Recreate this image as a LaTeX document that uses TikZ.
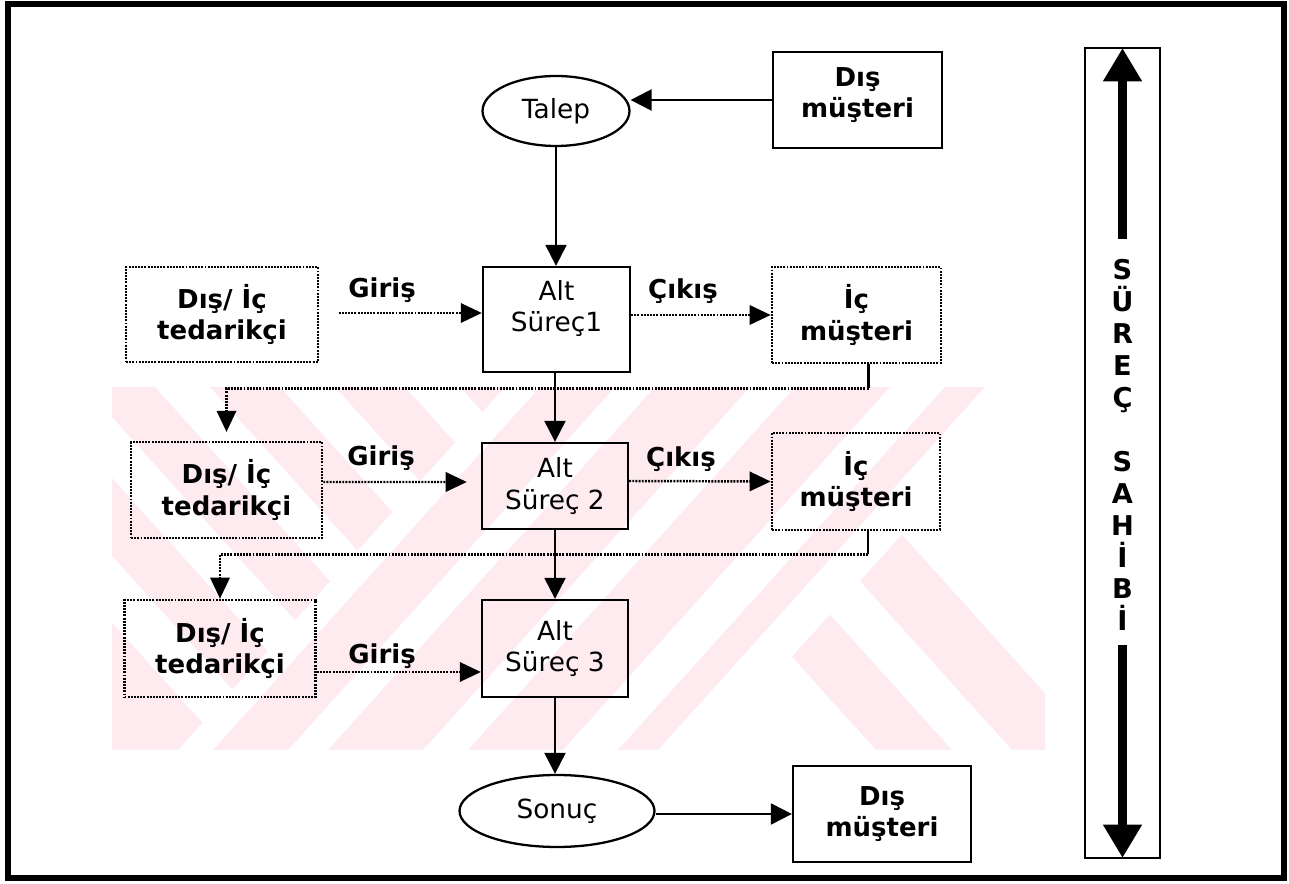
\documentclass[tikz,border=0pt]{standalone}
\usepackage{fontspec}
\setmainfont{DejaVu Sans}
\usetikzlibrary{arrows.meta,shapes.geometric}
\definecolor{wmpink}{RGB}{253,235,239}
\begin{document}
\begin{tikzpicture}[x=0.02cm,y=-0.02cm,
  reg/.style={font=\fontsize{15pt}{18pt}\selectfont},
  bld/.style={font=\fontsize{14.8pt}{18pt}\selectfont\bfseries},
  solidbox/.style={draw,line width=1.3pt,inner sep=0pt,align=center},
  dotbox/.style={draw,line width=1.5pt,dash pattern=on 1.1pt off 0.7pt,inner sep=0pt,align=center},
  oval/.style={draw,ellipse,line width=1.3pt,inner sep=0pt,reg},
  conn/.style={line width=1.2pt},
  arr/.style={conn,-{Triangle[length=12pt,width=12pt]}},
  dotconn/.style={line width=1.4pt,dash pattern=on 1.1pt off 0.7pt},
  dotarr/.style={dotconn,-{Triangle[length=12pt,width=11pt]}},
  bigarr/.style={line width=5pt,-{Triangle[length=19pt,width=21pt]}},
  lbl/.style={bld,inner sep=0pt,anchor=base},
  vlet/.style={font=\fontsize{15.5pt}{18pt}\selectfont\bfseries,inner sep=0pt,anchor=base}
]
\useasboundingbox (0,0) rectangle (1289,884);

% pale background emblem made of diagonal bands
\begin{scope}
  \clip (112,387) rectangle (1045,750);
  \begin{scope}
    \clip (505,387) -- (1035,387) -- (708,750) -- (178,750) -- cycle;
    \foreach \a/\b in {540/615,655/750,795/890,945/985}
      \fill[wmpink] (\a,387) -- (\b,387) -- (\b-327,750) -- (\a-327,750) -- cycle;
  \end{scope}
  \begin{scope}
    \clip (100,387) -- (505,387) -- (178,750) -- (100,750) -- cycle;
    \foreach \a/\b in {-215/-100,-40/30,85/155,210/280,335/405,460/520}
      \fill[wmpink] (\a,387) -- (\b,387) -- (\b+327,750) -- (\a+327,750) -- cycle;
  \end{scope}
  \begin{scope}
    \clip (1035,387) -- (1050,387) -- (1050,750) -- (708,750) -- cycle;
    \foreach \a/\b in {549/625,685/769}
      \fill[wmpink] (\a,387) -- (\b,387) -- (\b+327,750) -- (\a+327,750) -- cycle;
  \end{scope}
\end{scope}

% outer frame
\draw[line width=3pt] (8,4) rectangle (1284,878);

% main process column
\node[oval,minimum width=2.94cm,minimum height=1.4cm] (talep) at (556,111) {Talep};
\node[solidbox,bld,minimum width=3.38cm,minimum height=1.92cm] (dm1) at (857.5,100)
  {\raisebox{2.5pt}[\height][\depth]{\begin{tabular}{@{}c@{}}Dış\\müşteri\end{tabular}}};
\node[solidbox,reg,minimum width=2.94cm,minimum height=2.1cm] (alt1) at (556.5,319.5)
  {\raisebox{5.5pt}[\height][\depth]{\begin{tabular}{@{}c@{}}Alt\\Süreç1\end{tabular}}};
\node[solidbox,reg,minimum width=2.92cm,minimum height=1.72cm] (alt2) at (555,486) {Alt\\Süreç 2};
\node[solidbox,reg,minimum width=2.92cm,minimum height=1.94cm] (alt3) at (555,648.5) {Alt\\Süreç 3};
\node[oval,minimum width=3.9cm,minimum height=1.44cm] (sonuc) at (557,811) {Sonuç};
\node[solidbox,bld,minimum width=3.56cm,minimum height=1.92cm] (dm2) at (882,814) {Dış\\müşteri};

% suppliers and internal customers
\node[dotbox,bld,minimum width=3.84cm,minimum height=1.9cm] (ted1) at (222,314.5) {Dış/ İç\\tedarikçi};
\node[dotbox,bld,minimum width=3.82cm,minimum height=1.92cm] (ted2) at (226.5,490) {Dış/ İç\\tedarikçi};
\node[dotbox,bld,minimum width=3.82cm,minimum height=1.94cm] (ted3) at (220,648.5) {Dış/ İç\\tedarikçi};
\node[dotbox,bld,minimum width=3.38cm,minimum height=1.92cm] (ic1) at (856.5,315) {İç\\müşteri};
\node[dotbox,bld,minimum width=3.36cm,minimum height=1.94cm] (ic2) at (856,481.5) {İç\\müşteri};

% flow labels
\node[lbl] (gir1) at (382,298) {Giriş};
\node[lbl] (gir2) at (381,466) {Giriş};
\node[lbl] (gir3) at (382,664) {Giriş};
\node[lbl] (cik1) at (683,299) {Çıkış};
\node[lbl] (cik2) at (681,467) {Çıkış};

% main flow
\draw[arr] (dm1.west) -- (dm1.west -| talep.east);
\draw[arr] (talep.south) -- (alt1.north -| talep.south);
\draw[arr] (alt1.south -| alt2.north) -- (alt2.north);
\draw[arr] (alt2.south) -- (alt3.north);
\draw[arr] (alt3.south) -- (sonuc.north -| alt3.south);
\draw[arr] (dm2.west -| sonuc.east) -- (dm2.west);

% inputs and outputs
\draw[dotarr,shorten <=11pt] ([yshift=0.03cm]ted1.east) -- ([yshift=0.03cm]ted1.east -| alt1.west);
\draw[dotarr] (alt1.east |- ic1.west) -- (ic1.west);
\draw[dotarr,shorten >=8pt] ([yshift=0.16cm]ted2.east) -- ([yshift=0.08cm]alt2.west);
\draw[dotarr] ([yshift=0.1cm]alt2.east) -- (ic2.west);
\draw[dotarr] ([yshift=-0.47cm]ted3.east) -- ([yshift=-0.47cm]alt3.west);

% internal customers feed the next supplier
\draw[conn] ([xshift=0.24cm]ic1.south) -- ++(0,24) coordinate (k1);
\draw[dotarr,shorten >=5pt] (k1) -| (ted2.north);
\draw[conn] ([xshift=0.24cm]ic2.south) -- ++(0,23) coordinate (k2);
\draw[dotarr] (k2) -| (ted3.north);

% process owner bar
\node[draw,line width=1.2pt,minimum width=1.5cm,minimum height=16.2cm,inner sep=0pt] (owner) at (1122.5,453) {};
\coordinate (upst) at (1122.5,239);
\coordinate (dnst) at (1122.5,645);
\draw[bigarr] (upst) -- ([yshift=-0.6pt]owner.north);
\draw[bigarr] (dnst) -- ([yshift=0.6pt]owner.south);
\foreach \i/\ch in {1/S,2/Ü,3/R,4/E,5/Ç,7/S,8/A,9/H,10/İ,11/B,12/İ}
  \node[vlet] (own\i) at (1122.5,{280+31.9*(\i-1)}) {\ch};
\end{tikzpicture}
\end{document}
